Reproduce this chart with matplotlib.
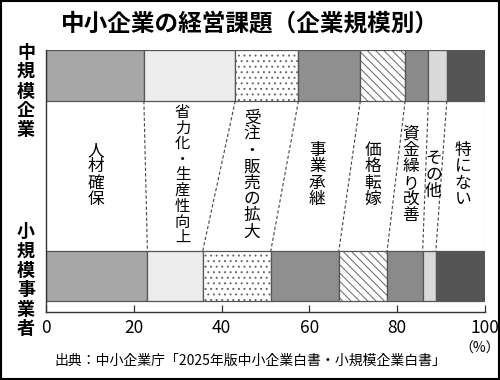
import matplotlib
matplotlib.use("Agg")
import numpy as np
from matplotlib import pyplot as plt
from matplotlib.patches import Rectangle

plt.rcParams['font.family'] = ['Noto Sans CJK JP', 'DejaVu Sans']
plt.rcParams['hatch.linewidth'] = 0.7

# 課題カテゴリ
categories = ['人材確保', '省力化・生産性向上', '受注・販売の拡大', '事業承継',
              '価格転嫁', '資金繰り改善', 'その他', '特にない']
# 中規模企業 / 小規模事業者 (%)
medium = [22.3, 20.8, 14.4, 14.1, 10.2, 5.3, 4.2, 8.7]
small = [23.1, 12.6, 15.5, 15.5, 11.0, 8.1, 3.0, 11.2]
groups = ['中規模企業', '小規模事業者']
xticks = [0, 20, 40, 60, 80, 100]

colors = ['#a7a7a7', '#ececec', 'white', '#8f8f8f', 'white', '#8a8a8a', '#d9d9d9', '#555555']
hatches = [None, None, '...', None, '\\\\\\\\', None, None, None]

fig = plt.figure(figsize=(5, 3.8), dpi=100)
ax = fig.add_axes([46 / 500, 68 / 380, 439 / 500, 262 / 380])
ax.set_xlim(0, 100)
ax.set_ylim(0, 262)

top_y, top_h = 236.5, 51
bot_y, bot_h = 36, 50

def draw_bar(values, yc, h):
    left = 0
    for v, c, ht in zip(values, colors, hatches):
        if ht:
            ax.barh(yc, v, height=h, left=left, color=c, hatch=ht,
                    edgecolor='#666666', linewidth=0)
        else:
            ax.barh(yc, v, height=h, left=left, color=c, linewidth=0)
        ax.barh(yc, v, height=h, left=left, fill=False,
                edgecolor='#555555', linewidth=0.9)
        left += v

draw_bar(medium, top_y, top_h)
draw_bar(small, bot_y, bot_h)

# 破線でつなぐ
cm = np.cumsum(medium)
cs = np.cumsum(small)
y_hi = top_y - top_h / 2
y_lo = bot_y + bot_h / 2
for a, b in zip(cm, cs):
    ax.plot([a, b], [y_hi, y_lo], color='#444444', lw=0.8, ls=(0, (3, 2)))

# ラベル(縦書き)
y_lab = 137
f = (y_lab - y_lo) / (y_hi - y_lo)
edges = np.concatenate([[0], cs + (cm - cs) * f])
for i, name in enumerate(categories):
    xc = (edges[i] + edges[i + 1]) / 2
    long_name = len(name) > 8
    ax.text(xc, y_lab, '\n'.join(name), ha='center', va='center',
            fontsize=11 if long_name else 12,
            linespacing=0.9 if long_name else 0.95)

for s in ['top', 'right']:
    ax.spines[s].set_visible(False)
for s in ['left', 'bottom']:
    ax.spines[s].set_linewidth(1)
    ax.spines[s].set_color('#333333')
ax.set_yticks([])
ax.set_xticks(xticks)
ax.tick_params(axis='x', direction='in', length=5, width=0.9, pad=5,
               labelsize=12.5, color='#333333')

fig.text(26 / 500, 1 - 91 / 380, '\n'.join(groups[0]), ha='center', va='center',
         fontsize=13, linespacing=1.03, fontweight='bold')
fig.text(26 / 500, 1 - 280 / 380, '\n'.join(groups[1]), ha='center', va='center',
         fontsize=13, linespacing=1.03, fontweight='bold')

fig.text(0.5, 1 - 23 / 380, '中小企業の経営課題（企業規模別）', ha='center', va='center',
         fontsize=17, fontweight='bold')
fig.text(480 / 500, 1 - 349 / 380, '（%）', ha='center', va='center', fontsize=10)
fig.text(250 / 500, 1 - 361 / 380, '出典：中小企業庁「2025年版中小企業白書・小規模企業白書」',
         ha='center', va='center', fontsize=10)

fig.add_artist(Rectangle((0.002, 0.003), 0.996, 0.994, transform=fig.transFigure,
                         fill=False, lw=1.5, edgecolor='black'))

fig.savefig('out.png', dpi=100)
